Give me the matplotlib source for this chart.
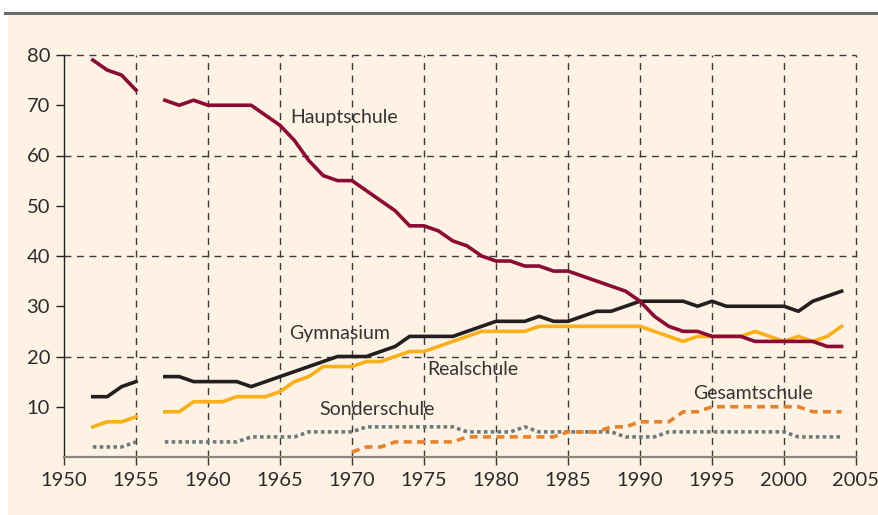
import numpy as np
import matplotlib
matplotlib.use("Agg")
import matplotlib.pyplot as plt
from matplotlib.patches import Rectangle
from matplotlib.lines import Line2D

nan = np.nan
years = list(range(1952, 2005))

hauptschule = [79, 77, 76, 73, nan, 71, 70, 71, 70, 70, 70, 70, 68, 66, 63, 59, 56, 55, 55, 53,
               51, 49, 46, 46, 45, 43, 42, 40, 39, 39, 38, 38, 37, 37, 36, 35, 34, 33, 31, 28,
               26, 25, 25, 24, 24, 24, 23, 23, 23, 23, 23, 22, 22]
gymnasium = [12, 12, 14, 15, nan, 16, 16, 15, 15, 15, 15, 14, 15, 16, 17, 18, 19, 20, 20, 20,
             21, 22, 24, 24, 24, 24, 25, 26, 27, 27, 27, 28, 27, 27, 28, 29, 29, 30, 31, 31,
             31, 31, 30, 31, 30, 30, 30, 30, 30, 29, 31, 32, 33]
realschule = [6, 7, 7, 8, nan, 9, 9, 11, 11, 11, 12, 12, 12, 13, 15, 16, 18, 18, 18, 19,
              19, 20, 21, 21, 22, 23, 24, 25, 25, 25, 25, 26, 26, 26, 26, 26, 26, 26, 26, 25,
              24, 23, 24, 24, 24, 24, 25, 24, 23, 24, 23, 24, 26]
sonderschule = [2, 2, 2, 3, nan, 3, 3, 3, 3, 3, 3, 4, 4, 4, 4, 5, 5, 5, 5, 6,
                6, 6, 6, 6, 6, 6, 5, 5, 5, 5, 6, 5, 5, 5, 5, 5, 5, 4, 4, 4,
                5, 5, 5, 5, 5, 5, 5, 5, 5, 4, 4, 4, 4]
gesamt_years = list(range(1970, 2005))
gesamtschule = [1, 2, 2, 3, 3, 3, 3, 3, 4, 4, 4, 4, 4, 4, 4, 5, 5, 5, 6, 6,
                7, 7, 7, 9, 9, 10, 10, 10, 10, 10, 10, 10, 9, 9, 9]

x_ticks = list(range(1950, 2006, 5))
y_ticks = list(range(10, 81, 10))

bg = "#FEF2E4"
txt = "#2b2b2b"
font = ["Lato", "DejaVu Sans"]

fig = plt.figure(figsize=(8.79, 5.15), dpi=100)
fig.patch.set_facecolor("white")
fig.patches.append(Rectangle((8/879, -0.01), 1 - 8/879 + 0.01, 1 - 14/515 + 0.01, transform=fig.transFigure,
                             facecolor=bg, edgecolor="none", zorder=-10))
fig.lines.append(Line2D([5/879, 1], [1 - 13/515, 1 - 13/515], transform=fig.transFigure,
                        color="#6b6b6b", lw=2.2, zorder=-5))

ax = fig.add_axes([64/879, 1 - 457/515, (856 - 64)/879, (457 - 55)/515])
ax.set_facecolor("none")
ax.set_xlim(1950, 2005)
ax.set_ylim(0, 80)

# grid
for xv in x_ticks[1:]:
    ax.plot([xv, xv], [0, 80], color="#3a3a3a", lw=1.0, ls=(0, (5, 4)), zorder=1, clip_on=False)
for yv in [20, 40, 60, 80]:
    ax.plot([1950, 2005], [yv, yv], color="#3a3a3a", lw=1.0, ls=(0, (5, 4)), zorder=1, clip_on=False)

lw = 2.6
ax.plot(years, sonderschule, color="#6e7a7a", lw=lw, ls=(0, (1, 0.9)), solid_capstyle="butt", zorder=3)
ax.plot(gesamt_years, gesamtschule, color="#E5822C", lw=lw, ls=(0, (2.2, 1.5)), zorder=3)
ax.plot(years, realschule, color="#FBAF1B", lw=lw, zorder=4, solid_joinstyle="round")
ax.plot(years, gymnasium, color="#231F20", lw=lw, zorder=5, solid_joinstyle="round")
ax.plot(years, hauptschule, color="#8A0B34", lw=lw, zorder=6, solid_joinstyle="round", clip_on=False)

for s in ["top", "right"]:
    ax.spines[s].set_visible(False)
ax.spines["left"].set_color("#222222")
ax.spines["left"].set_linewidth(1.0)
ax.spines["bottom"].set_color("#8a857f")
ax.spines["bottom"].set_linewidth(1.6)

ax.set_xticks(x_ticks)
ax.set_xticklabels([str(v) for v in x_ticks])
ax.set_yticks(y_ticks)
ax.set_yticklabels([str(v) for v in y_ticks])
ax.tick_params(axis="x", direction="out", length=6, width=1.0, color="#3a3a3a", pad=5,
               labelsize=14.5, labelcolor=txt)
ax.tick_params(axis="y", direction="out", length=6, width=1.0, color="#222222", pad=4,
               labelsize=14.5, labelcolor=txt)
for lab in ax.get_xticklabels() + ax.get_yticklabels():
    lab.set_family(font)

labels = [("Hauptschule", 1965.7, 67.5), ("Gymnasium", 1965.6, 24.5), ("Realschule", 1975.2, 17.5),
          ("Sonderschule", 1967.7, 9.4), ("Gesamtschule", 1993.7, 12.7)]
for t, xv, yv in labels:
    ax.text(xv, yv, t, fontsize=14, color="#333333", family=font, va="center", ha="left", zorder=7)

fig.savefig("out.png", dpi=100, facecolor=fig.get_facecolor())
